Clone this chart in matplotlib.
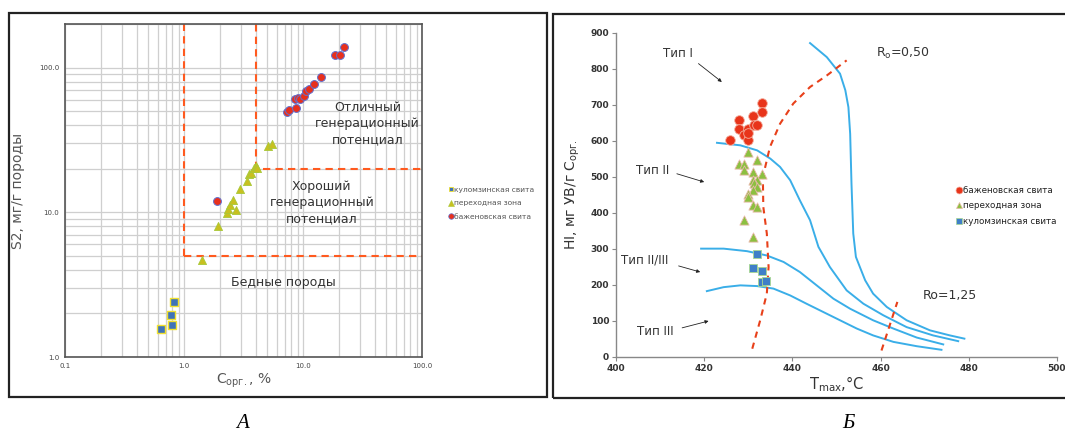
import matplotlib
matplotlib.use("Agg")
import matplotlib.pyplot as plt
from matplotlib.patches import Rectangle
from matplotlib.lines import Line2D

# ---- panel A data: Corg (%) vs S2 (mg/g rock)
kul_corg = [0.64, 0.78, 0.80, 0.83]
kul_s2 = [1.55, 1.95, 1.67, 2.39]
per_corg = [1.42, 1.94, 2.29, 2.35, 2.44, 2.57, 2.74, 2.96, 3.37, 3.55, 3.65, 3.89, 4.04, 4.10, 5.04, 5.48]
per_s2 = [4.7, 8.0, 9.9, 10.6, 11.3, 12.1, 10.4, 14.5, 16.4, 18.5, 18.8, 20.3, 20.9, 20.3, 28.7, 29.5]
baz_corg = [1.90, 7.33, 7.67, 8.62, 8.79, 9.08, 9.5, 10.1, 10.7, 11.2, 12.3, 14.3, 18.7, 20.6, 22.0]
baz_s2 = [11.9, 49.6, 50.7, 60.4, 52.9, 61.4, 60.4, 63.7, 69.0, 70.8, 77.5, 86.7, 121.7, 122.4, 139.0]

# ---- panel B data: Tmax vs HI
baz_t = [425.9, 427.9, 427.9, 429.0, 429.9, 430.0, 430.0, 431.0, 431.3, 431.9, 433.1, 433.1]
baz_hi = [602, 659, 632, 616, 634, 602, 621, 669, 645, 644, 706, 681]
per_t = [430.0, 431.9, 428.0, 429.0, 429.0, 431.0, 433.1, 431.9, 431.0, 431.3, 431.9, 431.0, 430.0, 430.0, 431.0, 431.9, 429.0, 431.0]
per_hi = [569, 548, 537, 537, 519, 514, 509, 493, 491, 482, 471, 463, 454, 444, 421, 417, 380, 333]
kul_t = [431.9, 431.0, 433.1, 433.1, 434.0]
kul_hi = [287, 247, 238, 207, 210]

# kerogen type boundary curves
t1_x = [444.0, 447.8, 450.8, 452.0, 452.7, 453.1, 453.4, 453.8, 454.4, 455.3, 456.5, 458.3, 461.4, 465.9, 471.2, 475.7, 479.0]
t1_y = [872, 833, 787, 741, 694, 620, 481, 343, 278, 250, 213, 176, 139, 102, 74, 60, 51]
t2_x = [422.9, 428.2, 432.0, 435.0, 437.2, 439.5, 441.7, 444.0, 445.9, 448.5, 452.3, 456.1, 460.6, 465.9, 471.9, 477.6]
t2_y = [595, 588, 574, 551, 528, 491, 435, 380, 306, 250, 185, 148, 116, 83, 60, 44]
t23_x = [419.3, 424.4, 429.7, 434.2, 438.0, 441.7, 445.5, 449.3, 453.1, 458.3, 462.9, 468.2, 474.2]
t23_y = [301, 301, 294, 282, 264, 236, 199, 162, 134, 102, 79, 54, 35]
t3_x = [420.6, 424.4, 428.2, 432.0, 435.7, 439.5, 443.2, 447.0, 450.8, 454.6, 458.3, 462.9, 468.2, 473.8]
t3_y = [183, 194, 199, 197, 190, 171, 148, 125, 102, 79, 60, 42, 30, 20]
ro050_x = [430.9, 432.7, 434.2, 434.6, 434.2, 433.4, 433.3, 434.9, 437.2, 440.2, 444.0, 447.8, 452.3]
ro050_y = [23, 102, 176, 250, 343, 417, 500, 583, 648, 704, 750, 782, 824]
ro125_x = [460.2, 463.8]
ro125_y = [18, 153]

W, H = 1065, 434
fig = plt.figure(figsize=(W / 100, H / 100), dpi=100)
plt.rcParams['font.family'] = ['DejaVu Sans']


def fx(px):
    return px / W


def fy(py):
    return 1 - py / H


# panel frames
fig.patches.append(Rectangle((fx(9), fy(397)), fx(538), 384 / H, transform=fig.transFigure,
                             fill=False, ec='#222222', lw=1.6))
fig.patches.append(Rectangle((fx(553), fy(398)), fx(530), 384 / H, transform=fig.transFigure,
                             fill=False, ec='#222222', lw=1.6))

# ================= panel A
axA = fig.add_axes([fx(65), fy(357), fx(357), 333 / H])
axA.set_xscale('log')
axA.set_yscale('log')
axA.set_xlim(0.1, 100)
axA.set_ylim(1, 200)
axA.grid(True, which='both', color='#cfcfcf', lw=0.9)
axA.set_axisbelow(True)
for s in axA.spines.values():
    s.set_color('#555555')
    s.set_linewidth(1.2)
axA.tick_params(which='both', length=0, labelsize=5, colors='#444444', pad=4)
axA.set_xticks([0.1, 1, 10, 100])
axA.set_xticklabels(['0.1', '1.0', '10.0', '100.0'])
axA.set_yticks([1, 10, 100])
axA.set_yticklabels(['1.0', '10.0', '100.0'])
axA.minorticks_on()
axA.tick_params(which='minor', labelleft=False, labelbottom=False)

dash = dict(color='#ff5a1f', lw=1.5, ls=(0, (3.5, 2.5)))
axA.plot([1, 1], [5, 200], **dash)
axA.plot([1, 100], [5, 5], **dash)
axA.plot([4.05, 4.05], [20, 200], **dash)
axA.plot([4.6, 100], [20, 20], **dash)

axA.scatter(kul_corg, kul_s2, marker='s', s=30, c='#3f73b8', edgecolors='#f0e030', linewidths=1.0, zorder=3)
axA.scatter(per_corg, per_s2, marker='^', s=34, c='#c8c020', edgecolors='#a8c838', linewidths=0.6, zorder=3)
axA.scatter(baz_corg, baz_s2, marker='o', s=32, c='#e8301c', edgecolors='#6070d0', linewidths=0.7, zorder=3)

txt = dict(fontsize=9, color='#333333', ha='center', va='center', linespacing=1.3)
axA.text(35, 41, 'Отличный\nгенерационный\nпотенциал', **txt)
axA.text(14.4, 11.6, 'Хороший\nгенерационный\nпотенциал', **txt)
axA.text(6.9, 3.25, 'Бедные породы', **txt)

axA.set_ylabel('S2, мг/г породы', fontsize=10, color='#555555', labelpad=10)
axA.set_xlabel(r'C$_{\mathregular{орг.}}$, %', fontsize=10, color='#555555', labelpad=2)

hA = [Line2D([], [], ls='', marker='s', ms=3.5, mfc='#3f73b8', mec='#f0e030', mew=0.6),
      Line2D([], [], ls='', marker='^', ms=4, mfc='#c8c020', mec='#a8c838', mew=0.4),
      Line2D([], [], ls='', marker='o', ms=4, mfc='#e8301c', mec='#6070d0', mew=0.5)]
fig.legend(hA, ['куломзинская свита', 'переходная зона', 'баженовская свита'],
           loc='upper left', bbox_to_anchor=(fx(442), fy(180)), frameon=False,
           fontsize=5.4, handlelength=0.6, handletextpad=0.15, labelspacing=0.95, labelcolor='#555555')

# ================= panel B
axB = fig.add_axes([fx(616), fy(357), fx(441), 324 / H])
axB.set_xlim(400, 500)
axB.set_ylim(0, 900)
axB.set_xticks(range(400, 501, 20))
axB.set_yticks(range(0, 901, 100))
for s in ['top', 'right']:
    axB.spines[s].set_visible(False)
for s in ['left', 'bottom']:
    axB.spines[s].set_color('#888888')
    axB.spines[s].set_linewidth(1.0)
axB.tick_params(direction='out', length=3, width=0.8, color='#888888', labelsize=6.5, pad=2)
for lab in axB.get_xticklabels() + axB.get_yticklabels():
    lab.set_fontweight('bold')
    lab.set_color('#333333')

blue = '#3aaee8'
for xs, ys in [(t1_x, t1_y), (t2_x, t2_y), (t23_x, t23_y), (t3_x, t3_y)]:
    axB.plot(xs, ys, color=blue, lw=1.4, zorder=2)
axB.plot(ro050_x, ro050_y, color='#e8401a', lw=1.5, ls=(0, (3, 2.5)), zorder=2)
axB.plot(ro125_x, ro125_y, color='#e8401a', lw=1.5, ls=(0, (3, 2.5)), zorder=2)

axB.scatter(baz_t, baz_hi, marker='o', s=48, c='#e8341a', edgecolors='#f4b0a0', linewidths=0.6, zorder=3)
axB.scatter(per_t, per_hi, marker='^', s=44, c='#8cc040', edgecolors='#e8b8a8', linewidths=0.6, zorder=3)
axB.scatter(kul_t, kul_hi, marker='s', s=40, c='#3f7fc8', edgecolors='#a8d890', linewidths=0.6, zorder=3)

axB.text(459, 843, r'R$_{\mathregular{o}}$=0,50', fontsize=9, color='#333333', va='center', ha='left')
axB.text(469.5, 171, 'Ro=1,25', fontsize=9, color='#333333', va='center', ha='left')

arr = dict(arrowstyle='-|>', lw=0.6, color='#222222', mutation_scale=5, shrinkA=0, shrinkB=0)
tfont = dict(fontsize=8.5, color='#333333', va='center', ha='center')
axB.annotate('', xy=(424.0, 764), xytext=(418.7, 815), arrowprops=arr)
axB.text(414.1, 843, 'Тип I', **tfont)
axB.annotate('', xy=(420.0, 486), xytext=(413.8, 509), arrowprops=arr)
axB.text(408.2, 517, 'Тип II', **tfont)
axB.annotate('', xy=(419.1, 236), xytext=(414.2, 253), arrowprops=arr)
axB.text(406.5, 269, 'Тип II/III', **tfont)
axB.annotate('', xy=(421.0, 100), xytext=(415.0, 81), arrowprops=arr)
axB.text(408.9, 72, 'Тип III', **tfont)

axB.set_ylabel(r'HI, мг УВ/г C$_{\mathregular{орг.}}$', fontsize=10, color='#333333', labelpad=6)
axB.set_xlabel(r'T$_{\mathregular{max}}$,°C', fontsize=10.5, color='#333333', labelpad=1)

hB = [Line2D([], [], ls='', marker='o', ms=5, mfc='#e8341a', mec='#f4b0a0', mew=0.5),
      Line2D([], [], ls='', marker='^', ms=5, mfc='#8cc040', mec='#e8b8a8', mew=0.5),
      Line2D([], [], ls='', marker='s', ms=4.5, mfc='#3f7fc8', mec='#a8d890', mew=0.5)]
fig.legend(hB, ['баженовская свита', 'переходная зона', 'куломзинская свита'],
           loc='upper left', bbox_to_anchor=(fx(948), fy(178)), frameon=False,
           fontsize=6.3, handlelength=0.6, handletextpad=0.2, labelspacing=0.75, labelcolor='#222222')

# captions
fig.text(fx(243), fy(424), 'А', fontsize=15, style='italic', family='Liberation Serif', ha='center', va='center')
fig.text(fx(848), fy(424), 'Б', fontsize=15, style='italic', family='Liberation Serif', ha='center', va='center')

fig.savefig('out.png', dpi=100)
